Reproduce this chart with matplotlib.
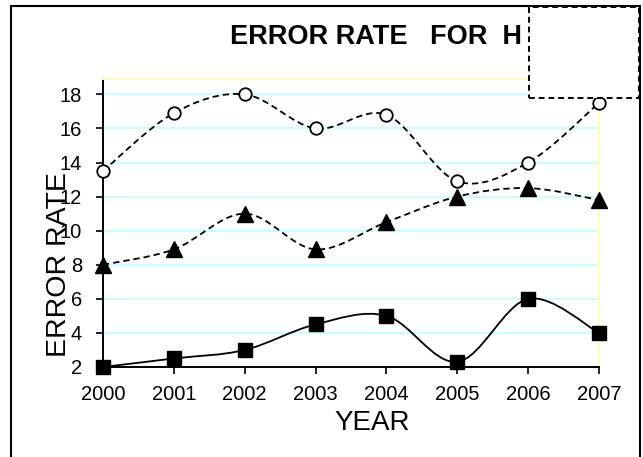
import matplotlib
matplotlib.use("Agg")
import matplotlib.pyplot as plt
from matplotlib.path import Path
from matplotlib.patches import PathPatch, Rectangle
import numpy as np

plt.rcParams['font.family'] = ['Liberation Sans', 'DejaVu Sans']

years = [2000, 2001, 2002, 2003, 2004, 2005, 2006, 2007]
circles = [13.5, 16.9, 18.0, 16.0, 16.8, 12.9, 14.0, 17.5]
triangles = [8.0, 8.9, 11.0, 8.9, 10.5, 12.0, 12.5, 11.8]
squares = [2.0, 2.5, 3.0, 4.5, 5.0, 2.3, 6.0, 4.0]
yticks = [2, 4, 6, 8, 10, 12, 14, 16, 18]

title_text = "ERROR RATE   FOR  H"
xlabel_text = "YEAR"
ylabel_text = "ERROR RATE"

W, H = 643, 457
fig = plt.figure(figsize=(W / 100, H / 100), dpi=100)
ax = fig.add_axes([103 / W, 1 - 367 / H, (599 - 103) / W, (367 - 79) / H])


def smooth_path(xs, ys):
    pts = np.column_stack([xs, ys]).astype(float)
    n = len(pts)
    verts = [pts[0]]
    codes = [Path.MOVETO]
    for i in range(n - 1):
        p0 = pts[i - 1] if i > 0 else pts[i]
        p1 = pts[i]
        p2 = pts[i + 1]
        p3 = pts[i + 2] if i + 2 < n else pts[i + 1]
        c1 = p1 + (p2 - p0) / 6.0
        c2 = p2 - (p3 - p1) / 6.0
        verts += [c1, c2, p2]
        codes += [Path.CURVE4] * 3
    return Path(verts, codes)


series = [
    (circles, (0, (3.5, 2.2)), dict(marker='o', markersize=9, markerfacecolor='white',
                                    markeredgecolor='black', markeredgewidth=1.3)),
    (triangles, (0, (3.5, 2.2)), dict(marker='^', markersize=12, markerfacecolor='black',
                                      markeredgecolor='black')),
    (squares, '-', dict(marker='s', markersize=10.5, markerfacecolor='black',
                        markeredgecolor='black')),
]
for vals, ls, mk in series:
    patch = PathPatch(smooth_path(years, vals), facecolor='none', edgecolor='black',
                      lw=1.3, linestyle=ls, zorder=3, clip_on=False)
    ax.add_patch(patch)
    ax.plot(years, vals, linestyle='none', zorder=4, clip_on=False, **mk)

ax.set_xlim(2000, 2007)
ax.set_ylim(2, 18.9)
ax.set_xticks(years)
ax.set_xticklabels([str(y) for y in years])
ax.set_yticks(yticks)
ax.set_yticklabels([str(v) for v in yticks])
ax.yaxis.grid(True, color='#c8ffff', lw=1.6, zorder=0)
ax.set_axisbelow(True)
ax.tick_params(axis='both', direction='out', length=5, width=1.2, labelsize=14.5, colors='black')
ax.tick_params(axis='x', pad=8)
ax.tick_params(axis='y', pad=10)
for s in ['left', 'bottom']:
    ax.spines[s].set_color('black')
    ax.spines[s].set_linewidth(1.4)
for s in ['top', 'right']:
    ax.spines[s].set_color('#ffffb8')
    ax.spines[s].set_linewidth(1.4)

fig.text(230 / W, 1 - 44 / H, title_text, ha='left', va='baseline',
         fontsize=19.5, fontweight='bold')
fig.text(372 / W, 1 - 430 / H, xlabel_text, ha='center', va='baseline', fontsize=20)
fig.text(59 / W, 1 - 265 / H, ylabel_text, ha='center', va='center', rotation=90,
         fontsize=20.5)

border = Rectangle((11 / W, -0.05), (640 - 11) / W, 1.05 - 6 / H, transform=fig.transFigure,
                   facecolor='none', edgecolor='black', lw=1.5, clip_on=False, zorder=10)
fig.patches.append(border)
legend_box = Rectangle((529 / W, 1 - 98 / H), 110 / W, 91 / H, transform=fig.transFigure,
                       facecolor='white', edgecolor='black', lw=1.4, linestyle=(0, (3, 2)),
                       zorder=11)
fig.patches.append(legend_box)

fig.savefig("out.png", dpi=100)
